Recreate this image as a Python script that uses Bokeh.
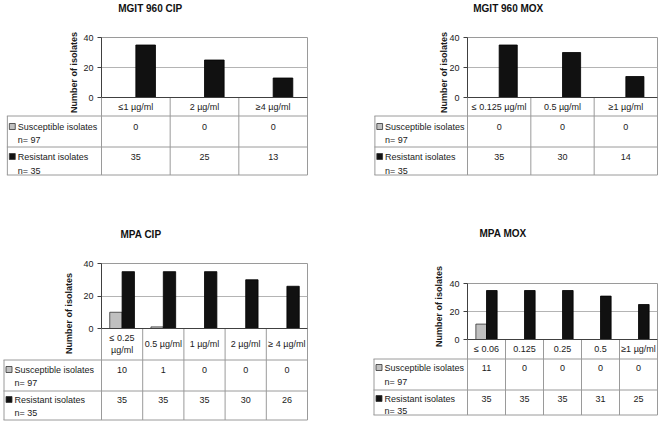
import math
from bokeh.plotting import figure
from bokeh.models import Range1d, FixedTicker, ColumnDataSource
from bokeh.layouts import row, column
from bokeh.core.properties import value
from bokeh.transform import dodge
from bokeh.embed import file_html
from bokeh.resources import INLINE

# ---------------- data ----------------
mgit_cip_title = "MGIT 960  CIP"
mgit_cip_cats = ["≤1 µg/ml", "2 µg/ml", "≥4 µg/ml"]
mgit_cip_sus = [0, 0, 0]
mgit_cip_res = [35, 25, 13]

mgit_mox_title = "MGIT 960  MOX"
mgit_mox_cats = ["≤ 0.125 µg/ml", "0.5 µg/ml", "≥1 µg/ml"]
mgit_mox_sus = [0, 0, 0]
mgit_mox_res = [35, 30, 14]

mpa_cip_title = "MPA  CIP"
mpa_cip_cats = ["≤ 0.25\nµg/ml", "0.5 µg/ml", "1 µg/ml", "2 µg/ml", "≥ 4 µg/ml"]
mpa_cip_sus = [10, 1, 0, 0, 0]
mpa_cip_res = [35, 35, 35, 30, 26]

mpa_mox_title = "MPA MOX"
mpa_mox_cats = ["≤ 0.06", "0.125", "0.25", "0.5", "≥1 µg/ml"]
mpa_mox_sus = [11, 0, 0, 0, 0]
mpa_mox_res = [35, 35, 35, 31, 25]

row_labels = ["Susceptible isolates", "Resistant isolates"]
row_n = ["n= 97", "n= 35"]
y_ticks = [0, 20, 40]
y_label = "Number of isolates"

# ---------------- styles ----------------
FONT = "Liberation Sans"
TXT = "#1a1a1a"
LINE = "#9a9a9a"
AXIS = "#404040"
GRID = "#b4b4b4"
SUS_C = "#c0c0c0"
RES_C = "#111111"


def make_panel(title, cats, sus, res, g):
    n = len(cats)
    fw = g["fr"] - g["fl"]
    fh = g["fb"] - g["ft"]
    kx = n / fw          # data units per pixel (x)
    ky = 40.0 / fh       # data units per pixel (y)
    p = figure(width=g["W"], height=g["H"], x_range=Range1d(0, n), y_range=Range1d(0, 40),
               output_backend="svg", toolbar_location=None, x_axis_location=None,
               min_border_left=g["fl"], min_border_right=g["W"] - g["fr"],
               min_border_top=g["ft"], min_border_bottom=g["H"] - g["fb"])
    p.outline_line_color = LINE
    p.background_fill_color = "white"
    p.border_fill_color = "white"

    ax = p.yaxis[0]
    ax.ticker = FixedTicker(ticks=y_ticks)
    ax.minor_tick_line_color = None
    ax.major_tick_in = 0
    ax.major_tick_out = 4
    ax.axis_line_color = AXIS
    ax.major_tick_line_color = AXIS
    ax.major_label_text_font = FONT
    ax.major_label_text_font_size = "9px"
    ax.major_label_text_color = TXT
    ax.major_label_standoff = 4

    p.xgrid.visible = False
    p.ygrid.ticker = FixedTicker(ticks=y_ticks)
    p.ygrid.grid_line_color = GRID

    def px_x(x):   # figure pixel -> data x
        return (x - g["fl"]) * kx

    def px_y(y):   # figure pixel -> data y
        return (g["fb"] - y) * ky

    # title and y-axis label (text in figure scales, outside the frame)
    p.text(x=[px_x(g["tx"])], y=[px_y(g["ty"])], text=[title], text_align="left",
           text_baseline="middle", text_font=value(FONT), text_font_size="10px",
           text_font_style="bold", text_color="#111111", level="overlay")
    p.text(x=[px_x(g["lx"])], y=[px_y(g["ly"])], text=[y_label], angle=math.pi / 2,
           text_align="center", text_baseline="middle", text_font=value(FONT),
           text_font_size="9px", text_font_style="bold", text_color=TXT, level="overlay")

    bw = g["bw"]
    xs = [i + 0.5 for i in range(n)]
    src = ColumnDataSource(dict(x=xs, sus=sus, res=res))
    p.vbar(x=dodge("x", -bw / 2), top="sus", bottom=0, width=bw, source=src,
           fill_color=SUS_C, line_color="#333333", line_width=0.8)
    p.vbar(x=dodge("x", bw / 2), top="res", bottom=0, width=bw, source=src,
           fill_color=RES_C, line_color="#000000", line_width=0.8)

    # ---- table below the chart ----
    L = (g["fl"] - g["xl"]) * kx
    yc = -(g["cat"] + 0.5) * ky
    y1 = -(g["r1"] + 0.5) * ky
    y2 = -(g["r2"] + 0.5) * ky
    hy = [yc, y1, y2]
    p.segment(x0=[-L] * 3, y0=hy, x1=[n] * 3, y1=hy, line_color=LINE, line_width=1, level="overlay")
    vx = list(range(n + 1))
    p.segment(x0=vx, y0=[0] * (n + 1), x1=vx, y1=[y2] * (n + 1), line_color=LINE, line_width=1,
              level="overlay")
    p.segment(x0=[-L + 0.5 * kx], y0=[yc], x1=[-L + 0.5 * kx], y1=[y2], line_color=LINE,
              line_width=1, level="overlay")
    p.segment(x0=[0], y0=[0], x1=[n], y1=[0], line_color=AXIS, line_width=1, level="overlay")

    tkw = dict(text_font=value(FONT), text_font_size="9px", text_color=TXT, level="overlay",
               text_baseline="middle")
    p.text(x=xs, y=[-(g["cat"] / 2.0) * ky] * n, text=cats, text_align="center",
           text_line_height=1.25, **tkw)
    tops = [g["cat"], g["r1"]]
    rows_y = [-(tops[k] + g["f"][k]) * ky for k in range(2)]
    rows_n = [-(tops[k] + g["s"][k]) * ky for k in range(2)]
    p.text(x=xs, y=[rows_y[0]] * n, text=[str(v) for v in sus], text_align="center", **tkw)
    p.text(x=xs, y=[rows_y[1]] * n, text=[str(v) for v in res], text_align="center", **tkw)

    tx = -L + 11 * kx
    p.text(x=[tx, tx], y=rows_y, text=row_labels, text_align="left", **tkw)
    p.text(x=[tx, tx], y=rows_n, text=row_n, text_align="left", **tkw)
    p.quad(left=[-L + 2.5 * kx] * 2, right=[-L + 8.5 * kx] * 2,
           bottom=[v - 3 * ky for v in rows_y], top=[v + 3 * ky for v in rows_y],
           fill_color=[SUS_C, RES_C], line_color="#333333", line_width=0.8, level="overlay")
    return p


# layout geometry (figure pixels)
g1 = dict(W=366, H=180, fl=98, fr=307, ft=37, fb=97, xl=2, cat=18, r1=49, r2=77,
          f=[11, 10], s=[24, 24], tx=115, ty=8, lx=70, ly=72, bw=0.286)
g2 = dict(W=299, H=180, fl=99, fr=297, ft=37, fb=97, xl=2, cat=18, r1=49, r2=77,
          f=[11, 10], s=[24, 24], tx=105, ty=8, lx=75, ly=72, bw=0.286)
g3 = dict(W=366, H=244, fl=101, fr=307, ft=83, fb=148, xl=3, cat=31, r1=62, r2=91,
          f=[10, 9], s=[23, 22], tx=120, ty=54, lx=68, ly=133, bw=0.3)
g4 = dict(W=299, H=244, fl=101, fr=291, ft=103, fb=159, xl=7, cat=19, r1=50, r2=75,
          f=[9, 9], s=[23, 21], tx=113, ty=53, lx=72, ly=126, bw=0.28)

p1 = make_panel(mgit_cip_title, mgit_cip_cats, mgit_cip_sus, mgit_cip_res, g1)
p2 = make_panel(mgit_mox_title, mgit_mox_cats, mgit_mox_sus, mgit_mox_res, g2)
p3 = make_panel(mpa_cip_title, mpa_cip_cats, mpa_cip_sus, mpa_cip_res, g3)
p4 = make_panel(mpa_mox_title, mpa_mox_cats, mpa_mox_sus, mpa_mox_res, g4)

layout = row(column(p1, p3, spacing=0), column(p2, p4, spacing=0), spacing=0)

open("out.html", "w").write(file_html(layout, INLINE))
